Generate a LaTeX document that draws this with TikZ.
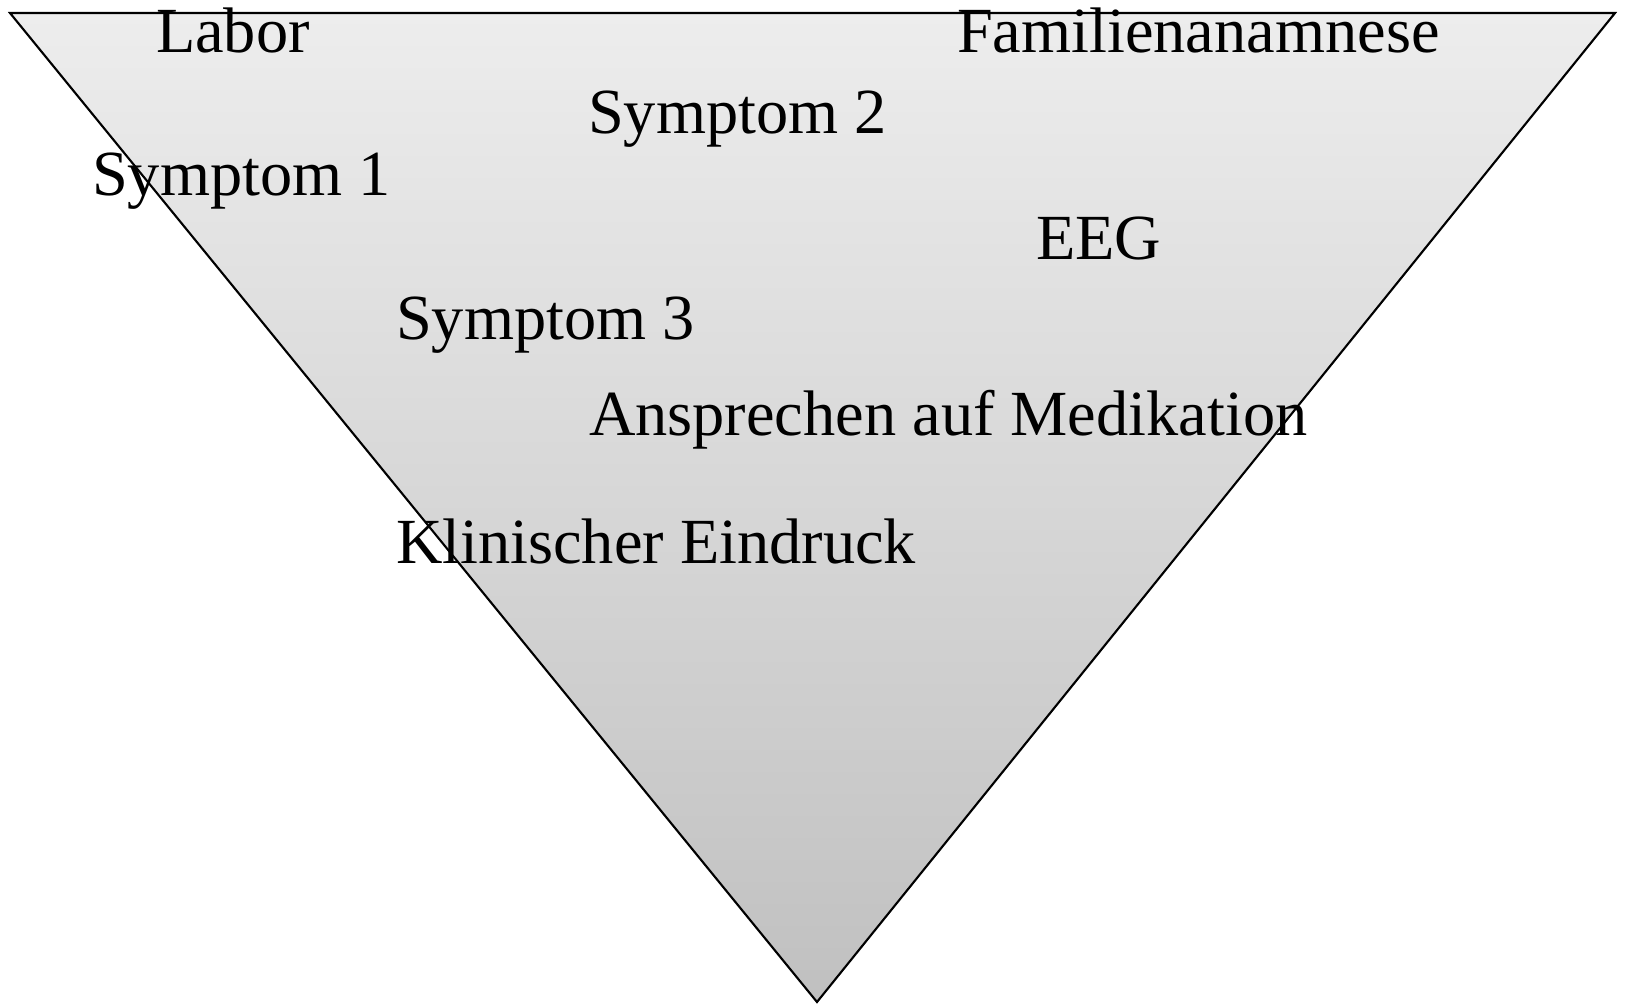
\documentclass[tikz,border=0pt]{standalone}
\usepackage{fontspec}
\setmainfont{Liberation Serif}
\definecolor{trtop}{RGB}{237,237,237}
\definecolor{trbot}{RGB}{192,192,192}
\begin{document}
\begin{tikzpicture}[x=0.01cm,y=-0.01cm,line width=0.6pt,
    every node/.style={inner sep=0pt,anchor=base west,font=\fontsize{18.3}{22}\selectfont}]
  \useasboundingbox(0,0)rectangle(1626,1005);
  \coordinate(tl)at(10,13);
  \coordinate(tr)at(1615,13);
  \coordinate(bt)at(817,1002);
  \shade[top color=trtop,bottom color=trbot,draw=black](tl)--(tr)--(bt)--cycle;
  \foreach \n/\p/\t in{labor/{155,52}/Labor,famanam/{956,52}/Familienanamnese,
      sym2/{587,133}/Symptom 2,sym1/{91,195}/Symptom 1,eeg/{1035,259}/EEG,
      sym3/{395,339}/Symptom 3,medik/{588,435}/Ansprechen auf Medikation,
      klin/{395,563}/Klinischer Eindruck}
    \node(\n)at(\p){\t};
\end{tikzpicture}
\end{document}
